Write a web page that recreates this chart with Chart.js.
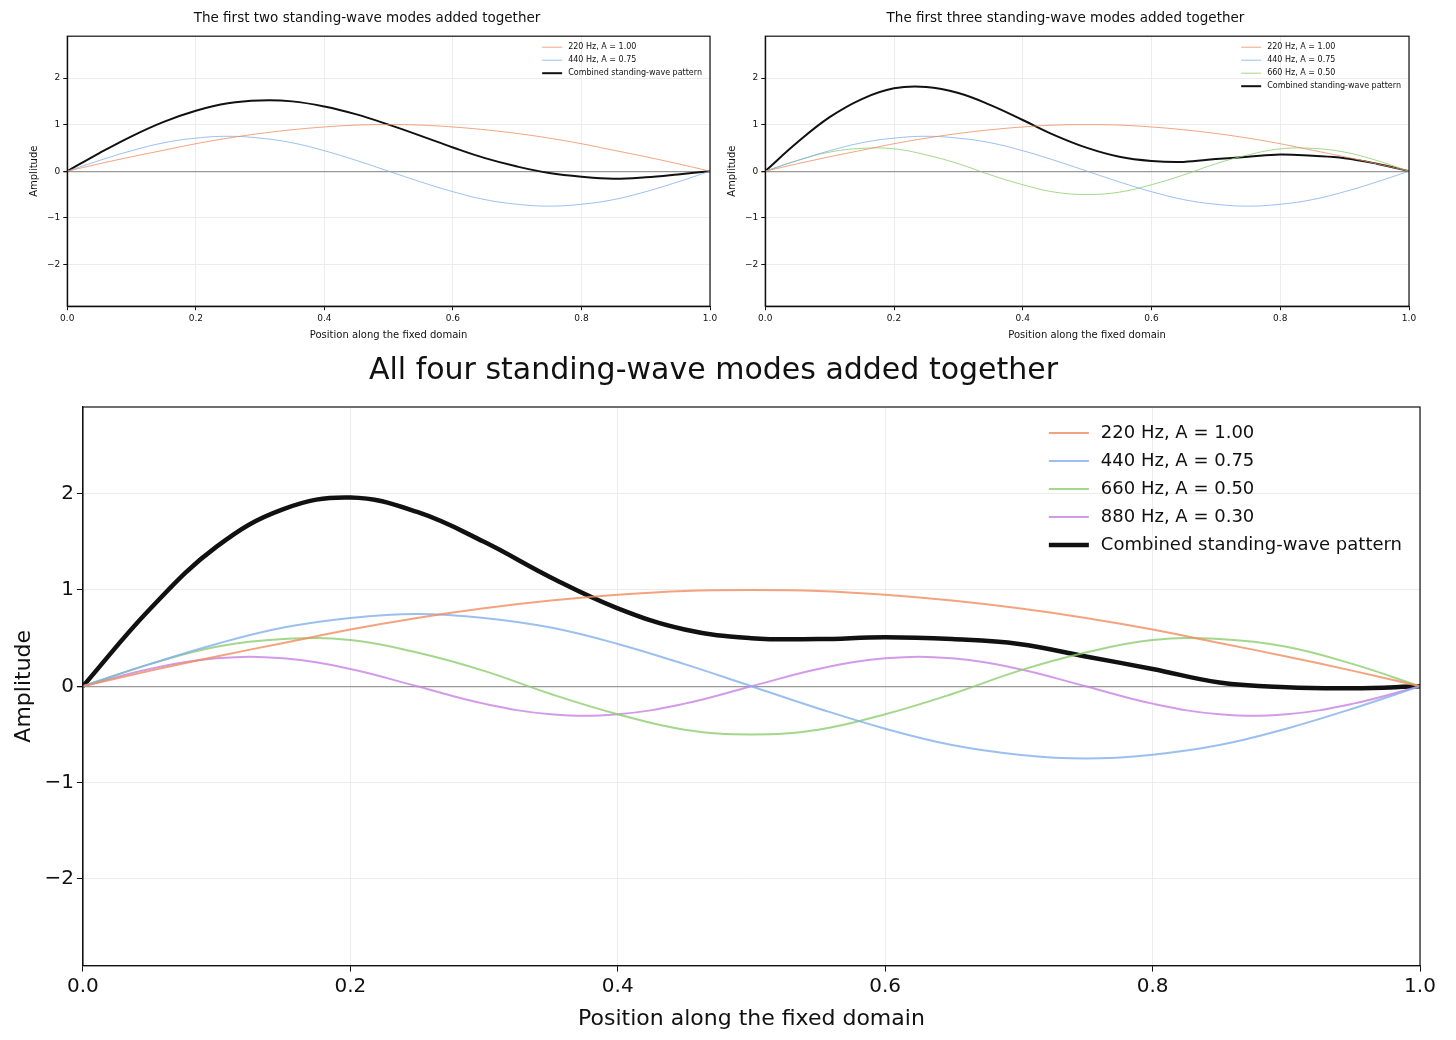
<!DOCTYPE html>
<html><head><meta charset="utf-8">
<script src="https://cdn.jsdelivr.net/npm/chart.js@4/dist/chart.umd.min.js"></script>
<style>
body{margin:0;background:#fff;width:1456px;height:1040px;position:relative;overflow:hidden;font-family:"DejaVu Sans";}
.c{position:absolute;}
</style></head><body>
<div class="c" style="left:0;top:0;width:728px;height:345px"><canvas id="c1"></canvas></div>
<div class="c" style="left:712px;top:0;width:728px;height:345px"><canvas id="c2"></canvas></div>
<div class="c" style="left:0;top:345px;width:1456px;height:695px"><canvas id="c3"></canvas></div>
<script>
const positions=[0,0.05,0.1,0.15,0.2,0.25,0.3,0.35,0.4,0.45,0.5,0.55,0.6,0.65,0.7,0.75,0.8,0.85,0.9,0.95,1.0];
const mode220=[0,.16,.31,.45,.59,.71,.81,.89,.95,.99,1,.99,.95,.89,.81,.71,.59,.45,.31,.16,0];
const mode440=[0,.23,.44,.61,.71,.75,.71,.61,.44,.23,0,-.23,-.44,-.61,-.71,-.75,-.71,-.61,-.44,-.23,0];
const mode660=[0,.23,.41,.49,.48,.35,.16,-.08,-.29,-.45,-.5,-.45,-.29,-.08,.16,.35,.48,.49,.41,.23,0];
const mode880=[0,.18,.29,.29,.18,0,-.18,-.29,-.29,-.18,0,.18,.29,.29,.18,0,-.18,-.29,-.29,-.18,0];
const combined2=[0,.39,.75,1.06,1.30,1.46,1.52,1.50,1.39,1.22,1,.76,.51,.28,.10,-.04,-.12,-.16,-.13,-.07,0];
const combined3=[0,.62,1.16,1.55,1.78,1.81,1.68,1.42,1.10,.77,.5,.31,.22,.20,.26,.31,.36,.33,.28,.16,0];
const combined4=[0,.80,1.45,1.84,1.96,1.81,1.50,1.13,.81,.59,.5,.49,.51,.49,.44,.31,.18,.04,-.01,-.02,0];
const modeLabels=["220 Hz, A = 1.00","440 Hz, A = 0.75","660 Hz, A = 0.50","880 Hz, A = 0.30"];
const combinedLabel="Combined standing-wave pattern";
const yTicks=[-2,-1,0,1,2];
const xTicks=[0,0.2,0.4,0.6,0.8,1.0];
const colors=["rgba(240,140,95,0.8)","rgba(130,175,235,0.8)","rgba(140,205,110,0.8)","rgba(200,130,225,0.8)"];

function pts(a){return positions.map((x,i)=>({x:x,y:a[i]}));}

const legendPlugin={id:'leg',afterDatasetsDraw(ch,args,o){
 const ctx=ch.ctx,a=ch.chartArea;ctx.save();
 ctx.strokeStyle='#111';ctx.lineWidth=1.2;ctx.strokeRect(a.left,a.top,a.right-a.left,a.bottom-a.top);
 ctx.font=o.fs+'px "DejaVu Sans"';ctx.textBaseline='middle';
 let w=0;ch.data.datasets.forEach(d=>{w=Math.max(w,ctx.measureText(d.label).width);});
 const x0=a.right-o.pad-w-o.gap-o.len;
 ch.data.datasets.forEach((d,i)=>{
  const y=a.top+o.top+i*o.lh;
  ctx.strokeStyle=d.borderColor;ctx.lineWidth=d.borderWidth;
  ctx.beginPath();ctx.moveTo(x0,y);ctx.lineTo(x0+o.len,y);ctx.stroke();
  ctx.fillStyle='#111';ctx.fillText(d.label,x0+o.len+o.gap,y);
 });ctx.restore();}};

function make(id,modes,comb,title,big,pad){
 const tf=big?30:13.5;
 const ds=modes.map((m,i)=>({label:modeLabels[i],data:pts(m),borderColor:colors[i],borderWidth:big?2:1,pointRadius:0,tension:0.4,fill:false}));
 ds.push({label:combinedLabel,data:pts(comb),borderColor:'#111',borderWidth:big?4.5:2,pointRadius:0,tension:0.4,fill:false});
 new Chart(document.getElementById(id),{type:'line',data:{datasets:ds},
 plugins:[legendPlugin],
 options:{responsive:true,maintainAspectRatio:false,animation:false,
  layout:{padding:pad},
  plugins:{legend:{display:false},tooltip:{enabled:false},
   title:{display:true,text:title,color:'#111',font:{family:'DejaVu Sans',size:tf,weight:'normal'},padding:big?{top:8,bottom:18}:{top:10,bottom:10}},
   leg:big?{fs:18,top:26,lh:28,len:40,gap:12,pad:18}:{fs:8,top:11,lh:13,len:20,gap:6,pad:8}},
  scales:{
   x:{type:'linear',min:0,max:1,afterBuildTicks:s=>{s.ticks=xTicks.map(v=>({value:v}));},
    ticks:{color:'#111',font:{family:'DejaVu Sans',size:big?20:9},callback:v=>v.toFixed(1),maxRotation:0},
    grid:{color:'#ececec',drawTicks:true,tickColor:'#111',tickLength:big?6:4},border:{color:'#111',width:1.2},
    title:{display:true,text:'Position along the fixed domain',color:'#111',font:{family:'DejaVu Sans',size:big?22:10},padding:{top:big?4:2}}},
   y:{min:-2.9,max:2.9,afterBuildTicks:s=>{s.ticks=yTicks.map(v=>({value:v}));},
    ticks:{color:'#111',font:{family:'DejaVu Sans',size:big?20:9},callback:v=>v<0?'\u2212'+Math.abs(v):''+v},
    grid:{color:c=>c.tick&&c.tick.value===0?'#999':'#ececec',lineWidth:c=>c.tick&&c.tick.value===0?1.3:1,tickColor:'#111',tickLength:big?6:4},border:{color:'#111',width:1.2},
    title:{display:true,text:'Amplitude',color:'#111',font:{family:'DejaVu Sans',size:big?22:10}}}
  }}});
}
make('c1',[mode220,mode440],combined2,'The first two standing-wave modes added together',false,{left:24,right:18,top:0,bottom:0});
make('c2',[mode220,mode440,mode660],combined3,'The first three standing-wave modes added together',false,{left:10,right:31,top:0,bottom:0});
make('c3',[mode220,mode440,mode660,mode880],combined4,'All four standing-wave modes added together',true,{left:7,right:36,top:0,bottom:4});
</script></body></html>
